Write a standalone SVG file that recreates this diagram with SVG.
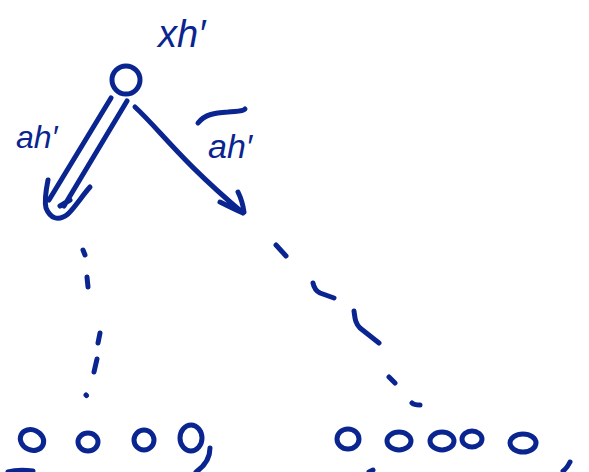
<svg xmlns="http://www.w3.org/2000/svg" width="589" height="472" viewBox="0 0 589 472">
<style>
.s{fill:none;stroke:#0a2590;stroke-width:5;stroke-linecap:round;stroke-linejoin:round}
.t{fill:#0a2590;font-family:"Liberation Sans",Arial,sans-serif;font-style:italic}
</style>
<rect width="589" height="472" fill="#fff"/>
<g id="root">
<circle class="s" cx="126" cy="80" r="14"/>
<text class="t" x="158" y="47" font-size="38">xh′</text>
</g>
<g id="connectors">
<path class="s" d="M111,98 L49,200 M127,101 L64,206 M48,180 C46,190 44,200 46,208 C50,218 58,222 68,214 C76,206 82,196 90,187 M60,206 L70,200"/>
<path class="s" d="M135,107 C160,130 180,160 243,213 M220,202 C228,206 236,210 243,213 M238,192 C241,198 243,205 244,212"/>
<path class="s" d="M83,250 L85,255 M87,277 L88,287 M100,333 L98,343 M97,359 L94,372 M86,395 L86.5,395.5"/>
<path class="s" d="M276,245 L286,256 M313,283 C314,288 316,291 320,293 L334,298 M354,311 C355,318 355,323 360,328 L379,343 M389,377 L395,383 M412,403 C414,405 417,405 420,405"/>
</g>
<g id="label-left">
<text class="t" x="16" y="148" font-size="32">ah′</text>
</g>
<g id="label-right">
<path class="s" d="M198,123 C205,114 215,113 228,112 C236,111 242,112 245,109"/>
<text class="t" x="208" y="158" font-size="34">ah′</text>
</g>
<g id="leaves-left">
<ellipse class="s" cx="32" cy="440" rx="12" ry="10" transform="rotate(25 32 440)"/>
<ellipse class="s" cx="88" cy="442" rx="10" ry="9"/>
<ellipse class="s" cx="144" cy="440" rx="10" ry="10"/>
<ellipse class="s" cx="191" cy="438" rx="11" ry="13"/>
<path class="s" d="M210,448 C210,456 206,465 196,472"/>
<path class="s" d="M8,472 C15,470 25,470 33,471"/>
</g>
<g id="leaves-right">
<ellipse class="s" cx="348" cy="439" rx="11" ry="10"/>
<ellipse class="s" cx="399" cy="441" rx="12" ry="9"/>
<ellipse class="s" cx="442" cy="441" rx="12" ry="9"/>
<ellipse class="s" cx="472" cy="439" rx="10" ry="8"/>
<ellipse class="s" cx="523" cy="443" rx="13" ry="9"/>
<path class="s" d="M570,462 C568,466 566,469 563,471"/>
<path class="s" d="M369,472 L373,470"/>
</g>
</svg>
